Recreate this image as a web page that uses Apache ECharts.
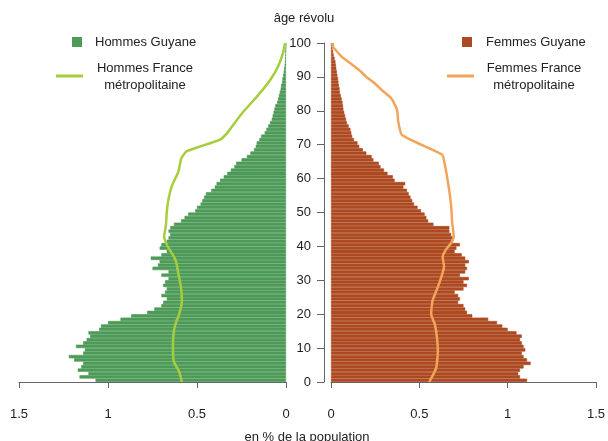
<!DOCTYPE html>
<html>
<head>
<meta charset="utf-8">
<script src="https://cdn.jsdelivr.net/npm/echarts@6/dist/echarts.min.js"></script>
<style>
  html, body { margin: 0; padding: 0; background: #fff; }
  #chart { width: 608px; height: 441px; }
</style>
</head>
<body>
<div id="chart"></div>
<script>
// ages 0..99, one bar per year
var ages = [];
for (var i = 0; i < 100; i++) ages.push(i);

// Guyane, % of population by age
var hommesGuyane = [
  1.07, 1.16, 1.11, 1.17, 1.15, 1.14, 1.19, 1.22, 1.14, 1.13,
  1.18, 1.14, 1.12, 1.10, 1.11, 1.05, 1.04, 1.00, 0.93, 0.87,
  0.78, 0.74, 0.70, 0.69, 0.67, 0.70, 0.68, 0.67, 0.69, 0.68,
  0.66, 0.70, 0.66, 0.75, 0.72, 0.71, 0.76, 0.70, 0.67, 0.71,
  0.70, 0.67, 0.66, 0.65, 0.66, 0.65, 0.63, 0.59, 0.57, 0.55,
  0.51, 0.50, 0.48, 0.47, 0.46, 0.45, 0.42, 0.40, 0.39, 0.37,
  0.35, 0.33, 0.31, 0.29, 0.28, 0.25, 0.22, 0.20, 0.18, 0.17,
  0.165, 0.15, 0.14, 0.12, 0.11, 0.10, 0.09, 0.08, 0.075, 0.07,
  0.065, 0.06, 0.05, 0.045, 0.04, 0.035, 0.03, 0.027, 0.022, 0.02,
  0.016, 0.013, 0.01, 0.008, 0.006, 0.005, 0.004, 0.003, 0.002, 0.001
];
var femmesGuyane = [
  1.11, 1.07, 1.06, 1.07, 1.09, 1.13, 1.11, 1.09, 1.08, 1.10,
  1.09, 1.08, 1.07, 1.08, 1.05, 1.00, 0.97, 0.94, 0.89, 0.80,
  0.77, 0.76, 0.75, 0.72, 0.73, 0.72, 0.70, 0.75, 0.77, 0.75,
  0.78, 0.73, 0.76, 0.77, 0.76, 0.78, 0.76, 0.74, 0.70, 0.71,
  0.73, 0.69, 0.69, 0.68, 0.67, 0.67, 0.58, 0.55, 0.54, 0.53,
  0.51, 0.49, 0.47, 0.46, 0.45, 0.44, 0.43, 0.41, 0.42, 0.36,
  0.35, 0.32, 0.30, 0.28, 0.27, 0.24, 0.23, 0.20, 0.18, 0.16,
  0.15, 0.13, 0.12, 0.115, 0.11, 0.10, 0.09, 0.085, 0.08, 0.075,
  0.07, 0.068, 0.065, 0.06, 0.055, 0.05, 0.048, 0.045, 0.042, 0.04,
  0.036, 0.033, 0.03, 0.028, 0.025, 0.02, 0.015, 0.012, 0.008, 0.005
];

// France métropolitaine profiles: ages and values
var hommesFranceAges = [0, 3, 6, 10, 15, 18, 20, 24, 28, 32, 35, 37, 40, 43, 46, 50, 54, 58, 62, 66, 68, 69.5, 71.5, 73.5, 77, 80, 85, 89, 93, 97, 100];
var hommesFrance = [0.585, 0.60, 0.63, 0.635, 0.63, 0.615, 0.60, 0.585, 0.59, 0.605, 0.615, 0.63, 0.665, 0.685, 0.675, 0.67, 0.66, 0.64, 0.605, 0.588, 0.56, 0.48, 0.37, 0.33, 0.28, 0.235, 0.15, 0.09, 0.045, 0.017, 0.005];
var femmesFranceAges = [0, 4, 9, 13, 17, 20, 24, 29, 34, 37, 39, 41, 43, 47, 52, 58, 64, 67, 70, 73, 77, 80, 82.5, 84, 86, 88, 90, 92, 94, 96, 98, 99, 100];
var femmesFrance = [0.556, 0.595, 0.605, 0.60, 0.588, 0.567, 0.575, 0.612, 0.64, 0.632, 0.65, 0.68, 0.695, 0.686, 0.68, 0.665, 0.645, 0.63, 0.51, 0.40, 0.38, 0.375, 0.355, 0.335, 0.29, 0.25, 0.20, 0.16, 0.11, 0.06, 0.025, 0.01, 0.01];

var xTicks = [0, 0.5, 1, 1.5];
var ageTicks = [0, 10, 20, 30, 40, 50, 60, 70, 80, 90, 100];

var colors = {
  hg: '#4e9a58',
  fg: '#ad4a21',
  hf: '#a5cd3c',
  ff: '#f2a45a',
  axis: '#666',
  text: '#222'
};
var font = "'Liberation Sans', Arial, sans-serif";

function pairs(xs, ys) {
  var out = [];
  for (var k = 0; k < xs.length; k++) out.push([ys[k], xs[k]]);
  return out;
}

var chart = echarts.init(document.getElementById('chart'));

function xAxisFor(idx, inverse) {
  return {
    type: 'value', gridIndex: idx, min: 0, max: 1.5, interval: 0.5, inverse: inverse,
    position: 'bottom', offset: 13,
    axisLine: { show: true, lineStyle: { color: colors.axis, width: 1 } },
    axisTick: { show: true, length: 6, lineStyle: { color: colors.axis } },
    axisLabel: { fontSize: 13, color: colors.text, fontFamily: font, margin: 13,
      formatter: function (v) { return xTicks.indexOf(v) >= 0 ? String(v) : ''; } },
    splitLine: { show: false }
  };
}

var option = {
  animation: false,
  textStyle: { fontFamily: font },
  grid: [
    { left: 19, width: 267, top: 43, height: 339 },
    { left: 331, width: 267, top: 43, height: 339 }
  ],
  xAxis: [xAxisFor(0, true), xAxisFor(1, false)],
  yAxis: [
    { type: 'category', gridIndex: 0, data: ages, show: false },
    { type: 'value', gridIndex: 0, min: 0, max: 100, show: false },
    { type: 'category', gridIndex: 1, data: ages, show: false },
    {
      type: 'value', gridIndex: 1, min: 0, max: 100, interval: 10,
      position: 'left', offset: 7,
      axisLine: { show: true, lineStyle: { color: colors.axis, width: 1 } },
      axisTick: { show: true, length: 7, lineStyle: { color: colors.axis } },
      axisLabel: { fontSize: 13, color: colors.text, fontFamily: font, margin: 13,
        formatter: function (v) { return ageTicks.indexOf(v) >= 0 ? String(v) : ''; } },
      splitLine: { show: false }
    }
  ],
  series: [
    {
      name: 'Hommes Guyane', type: 'bar', xAxisIndex: 0, yAxisIndex: 0,
      data: hommesGuyane, barCategoryGap: '0%',
      itemStyle: { color: colors.hg, borderColor: colors.hg, borderWidth: 0.6 }
    },
    {
      name: 'Femmes Guyane', type: 'bar', xAxisIndex: 1, yAxisIndex: 2,
      data: femmesGuyane, barCategoryGap: '0%',
      itemStyle: { color: colors.fg, borderColor: colors.fg, borderWidth: 0.6 }
    },
    {
      name: 'Hommes France métropolitaine', type: 'line', xAxisIndex: 0, yAxisIndex: 1,
      data: pairs(hommesFranceAges, hommesFrance), showSymbol: false, smooth: 0.15,
      lineStyle: { color: colors.hf, width: 2.5 }
    },
    {
      name: 'Femmes France métropolitaine', type: 'line', xAxisIndex: 1, yAxisIndex: 3,
      data: pairs(femmesFranceAges, femmesFrance), showSymbol: false, smooth: 0.15,
      lineStyle: { color: colors.ff, width: 2.5 }
    }
  ],
  graphic: [
    // titres d'axes
    { type: 'text', left: 'center', x: 0, top: 12, style: { text: 'âge révolu', fontSize: 13, fill: colors.text, fontFamily: font } },
    { type: 'text', x: 307, y: 437, style: { text: 'en % de la population', fontSize: 13, fill: colors.text, fontFamily: font, align: 'center', verticalAlign: 'middle' } },
    // légende gauche
    { type: 'rect', shape: { x: 72, y: 37, width: 10, height: 10 }, style: { fill: colors.hg } },
    { type: 'text', x: 95, y: 42, style: { text: 'Hommes Guyane', fontSize: 13, fill: colors.text, fontFamily: font, verticalAlign: 'middle' } },
    { type: 'line', shape: { x1: 56, y1: 76, x2: 83, y2: 76 }, style: { stroke: colors.hf, lineWidth: 3 } },
    { type: 'text', x: 145, y: 77, style: { text: 'Hommes France\nmétropolitaine', fontSize: 13, lineHeight: 17, fill: colors.text, fontFamily: font, align: 'center', verticalAlign: 'middle' } },
    // légende droite
    { type: 'rect', shape: { x: 462, y: 37, width: 10, height: 10 }, style: { fill: colors.fg } },
    { type: 'text', x: 486, y: 42, style: { text: 'Femmes Guyane', fontSize: 13, fill: colors.text, fontFamily: font, verticalAlign: 'middle' } },
    { type: 'line', shape: { x1: 447, y1: 76, x2: 474, y2: 76 }, style: { stroke: colors.ff, lineWidth: 3 } },
    { type: 'text', x: 534, y: 77, style: { text: 'Femmes France\nmétropolitaine', fontSize: 13, lineHeight: 17, fill: colors.text, fontFamily: font, align: 'center', verticalAlign: 'middle' } }
  ]
};

chart.setOption(option);
</script>
</body>
</html>
